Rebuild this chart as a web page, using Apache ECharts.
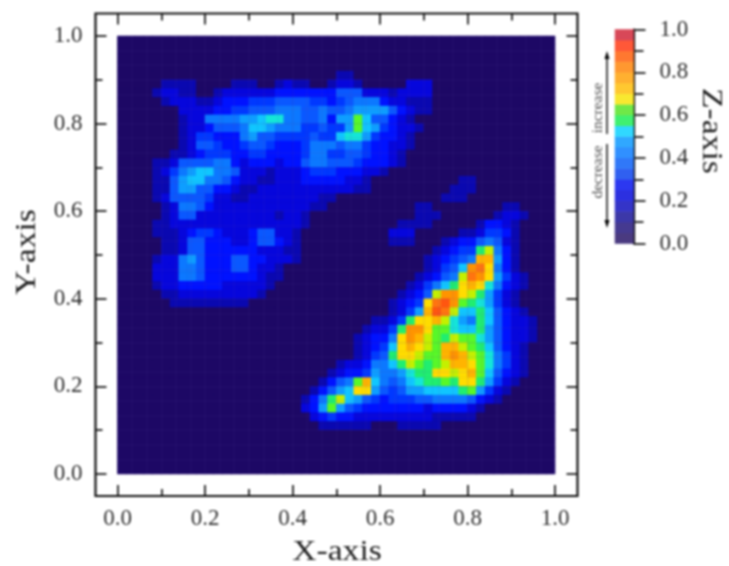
<!DOCTYPE html>
<html><head><meta charset="utf-8">
<style>html,body{margin:0;padding:0;background:#fff}#chart{width:729px;height:566px;filter:blur(0.8px)}</style>
<script src="https://cdn.jsdelivr.net/npm/echarts@6/dist/echarts.min.js"></script>
</head><body><div id="chart"></div>
<script>
// z level per cell (base-36 digit, one level = 0.05 of Z), rows from y=1 down to y=0
const zLevelRows = [
"0000000000 0000000000 0000000000 0000000000 0000000000",
"0000000000 0000000000 0000000000 0000000000 0000000000",
"0000000000 0000000000 0000000000 0000000000 0000000000",
"0000000000 0000000000 0000000000 0000000000 0000000000",
"0000000000 0000000000 0000011000 0000000000 0000000000",
"0000011110 0001110012 1100122100 0002220000 0000000000",
"0000122110 0122222233 3333355522 2122220000 0000000000",
"0000012221 1233344455 5544345666 3221110000 0000000000",
"0000000222 2334455566 6556556777 7532110000 0000000000",
"0000000122 6666778996 6556377b85 5321000000 0000000000",
"0000000122 3555688766 6445447b87 4322100000 0000000000",
"0000000124 4333675544 4454489974 3321000000 0000000000",
"0000000125 5433455433 3466656643 3221000000 0000000000",
"0000001123 4443344333 3466445543 3210000000 0000000000",
"0000112555 5663233323 3566555433 3210000000 0000000000",
"0000124678 8665222122 2344433322 1000000000 0000000000",
"0000115788 6653221122 2333332210 0000000001 1000000000",
"0000115775 5332112222 2222222110 0000000011 1000000000",
"0000125555 4221122222 2221100000 0000000111 0000000000",
"0000012665 3222222222 2211000000 0000110000 0000110000",
"0000012552 2222222212 2100000000 0000111000 0001221000",
"0000112222 2222222222 2100000000 0011110000 0133210000",
"0000111234 4322235522 1000000000 0222000001 1244310000",
"0000011255 3332235532 1000000000 0111000123 3565210000",
"0000011255 3333332221 1000000000 0000001234 4ac6310000",
"0000122675 3335533222 1000000000 0000012345 6ee7310000",
"0000222665 3335532210 0000000000 0000012458 fgd6310000",
"0000222665 3333332110 0000000000 000012356c gfd7421000",
"0000122333 3322222100 0000000000 00012468ad ed96321000",
"0000011222 2222221000 0000000000 001235cffd ca74210000",
"0000001111 1111100000 0000000000 01234dghfb a974210000",
"0000000000 0000000000 0000000000 01247ehgc8 8a85321000",
"0000000000 0000000000 0000000001 124addec97 6a85322100",
"0000000000 0000000000 0000000012 24affdbb98 8a75322100",
"0000000000 0000000000 0000000123 36dfecbacb b975322100",
"0000000000 0000000000 0000000123 48dedcbeec ba85321000",
"0000000000 0000000000 0000000124 5addcbbefe cb96421000",
"0000000000 0000000000 0000012236 68acbabcee db96421000",
"0000000000 0000000000 0000123347 6679aaddcd eb85321000",
"0000000000 0000000000 0001356be8 65689aabad da74210000",
"0000000000 0000000000 0013578dd7 545778888a b742100000",
"0000000000 0000000000 0136ac8754 3444556666 5321000000",
"0000000000 0000000000 0237b75433 3333323333 2100000000",
"0000000000 0000000000 0023433222 2222221111 1000000000",
"0000000000 0000000000 0001111110 0011111000 0000000000",
"0000000000 0000000000 0000000000 0000000000 0000000000",
"0000000000 0000000000 0000000000 0000000000 0000000000",
"0000000000 0000000000 0000000000 0000000000 0000000000",
"0000000000 0000000000 0000000000 0000000000 0000000000",
"0000000000 0000000000 0000000000 0000000000 0000000000"
];
const mapColors = ["#1d0865","#0a08b0","#0606dc","#0012ff","#0038ff","#0a58ff","#0c78ff","#0e9eff","#10c6ff","#14e6d8",
  "#20ee70","#58f828","#c4f000","#ffdc00","#ffb400","#ff9400","#ff7410","#ff5610","#ff3420","#e02030"];
const barColors = ["#4a3a80","#453a90","#3c38a8","#3434c8","#2c30e0","#2c38f0","#3060f0","#3078f8","#3090ff","#30a8ff",
  "#30d8ff","#40f070","#70e848","#f8e830","#ffc830","#ffb030","#ff9830","#ff7830","#ff5838","#d84858"];
const barLevels = barColors.map((c,i)=>i);
const axisTitles = {x:"X-axis", y:"Y-axis", z:"Z-axis"};
const sideNotes = {up:"increase", down:"decrease"};

const inkColor = "#111", labelFont = "Liberation Serif", labelColor = "#2e2e2e";
const rows = zLevelRows.map(r=>r.replace(/ /g,""));
const N = rows.length;
const cells = [];
rows.forEach((row,r)=>{ for(let c=0;c<row.length;c++){ cells.push([c,N-1-r,parseInt(row[c],36)*0.05+0.025]); } });
const cats = Array.from({length:N},(_,i)=>((i+0.5)/N).toFixed(2));
const pieces = cols => cols.map((color,i)=>({min:i*0.05,max:(i+1)*0.05,color}));

const dataRect = {left:117.5,top:36,width:437.5,height:438};
const tickAxis = (pos,extra)=>Object.assign({
  type:"value",min:0,max:1,interval:0.2,position:pos,gridIndex:1,
  axisLine:{show:false,onZero:false},splitLine:{show:false},
  axisTick:{show:true,inside:true,length:11,lineStyle:{color:inkColor,width:1.7}},
  minorTick:{show:true,splitNumber:2,length:7,lineStyle:{color:inkColor,width:1.7}},
  axisLabel:{show:false}
},extra);
const shown = m=>({show:true,margin:m,color:labelColor,fontFamily:labelFont,fontSize:23,formatter:v=>v.toFixed(1)});
const hiddenCat = (g,d)=>({type:"category",gridIndex:g,data:d,show:false,axisLine:{show:false}});
const latticeAxis = ()=>({type:"value",gridIndex:4,min:0,max:1,interval:1/30,z:5,
  axisLine:{show:false,onZero:false},axisTick:{show:false},axisLabel:{show:false},
  splitLine:{show:true,lineStyle:{color:"rgba(95,70,175,0.07)",width:2}}});

const option = {
  animation:false,backgroundColor:"#fff",
  grid:[
    {left:95.5,top:13.5,width:482,height:482.5,show:true,borderColor:inkColor,borderWidth:2.2,backgroundColor:"#fff"},
    Object.assign({},dataRect),
    Object.assign({show:true,borderWidth:0,backgroundColor:mapColors[0]},dataRect),
    {left:615,top:29.5,width:18.5,height:214},
    Object.assign({},dataRect)
  ],
  xAxis:[
    {type:"value",gridIndex:0,show:false},
    tickAxis("bottom",{offset:22,axisLabel:shown(11)}),
    tickAxis("top",{offset:22.5}),
    hiddenCat(2,cats),
    hiddenCat(3,["bar"]),
    latticeAxis()
  ],
  yAxis:[
    {type:"value",gridIndex:0,show:false},
    tickAxis("left",{offset:22,axisLabel:shown(13)}),
    tickAxis("right",{offset:22.5}),
    hiddenCat(2,cats),
    hiddenCat(3,barLevels.map(String)),
    {type:"value",gridIndex:3,position:"right",min:0,max:1,interval:0.2,
     axisLine:{show:true,onZero:false,lineStyle:{color:inkColor,width:2.2}},splitLine:{show:false},
     axisTick:{show:true,length:12,lineStyle:{color:inkColor,width:1.7}},
     minorTick:{show:true,splitNumber:2,length:10,lineStyle:{color:inkColor,width:1.7}},
     axisLabel:{show:true,margin:26,color:labelColor,fontFamily:labelFont,fontSize:23,formatter:v=>v.toFixed(1)}},
    latticeAxis()
  ],
  visualMap:[
    {type:"piecewise",show:false,dimension:2,seriesIndex:0,pieces:pieces(mapColors)},
    {type:"piecewise",show:false,dimension:2,seriesIndex:1,pieces:pieces(barColors)}
  ],
  series:[
    {type:"heatmap",xAxisIndex:3,yAxisIndex:3,data:cells,itemStyle:{borderWidth:0},emphasis:{disabled:true}},
    {type:"heatmap",xAxisIndex:4,yAxisIndex:4,data:barLevels.map(l=>[0,l,l*0.05+0.025]),itemStyle:{borderWidth:0},emphasis:{disabled:true}}
  ],
  graphic:{elements:[
    {type:"text",x:337,y:552,scaleX:1.12,style:{text:axisTitles.x,font:"30px 'Liberation Serif'",fill:"#222",textAlign:"center",textVerticalAlign:"middle"}},
    {type:"text",x:27,y:252,rotation:Math.PI/2,scaleX:1.12,style:{text:axisTitles.y,font:"30px 'Liberation Serif'",fill:"#222",textAlign:"center",textVerticalAlign:"middle"}},
    {type:"text",x:711,y:131,rotation:-Math.PI/2,scaleX:1.12,style:{text:axisTitles.z,font:"30px 'Liberation Serif'",fill:"#222",textAlign:"center",textVerticalAlign:"middle"}},
    {type:"text",x:598,y:108,rotation:Math.PI/2,scaleX:1.1,style:{text:sideNotes.up,font:"14px 'Liberation Serif'",fill:"#555",textAlign:"center",textVerticalAlign:"middle"}},
    {type:"text",x:598,y:172,rotation:Math.PI/2,scaleX:1.1,style:{text:sideNotes.down,font:"14px 'Liberation Serif'",fill:"#555",textAlign:"center",textVerticalAlign:"middle"}},
    {type:"line",shape:{x1:607,y1:134,x2:607,y2:56},style:{stroke:"#000",lineWidth:1.4}},
    {type:"line",shape:{x1:607,y1:144,x2:607,y2:223},style:{stroke:"#000",lineWidth:1.4}},
    {type:"polygon",shape:{points:[[607,51],[604.5,59],[609.5,59]]},style:{fill:"#000"}},
    {type:"polygon",shape:{points:[[607,228],[604.5,220],[609.5,220]]},style:{fill:"#000"}}
  ]}
};
echarts.init(document.getElementById("chart"),null,{renderer:"canvas"}).setOption(option);
</script></body></html>
